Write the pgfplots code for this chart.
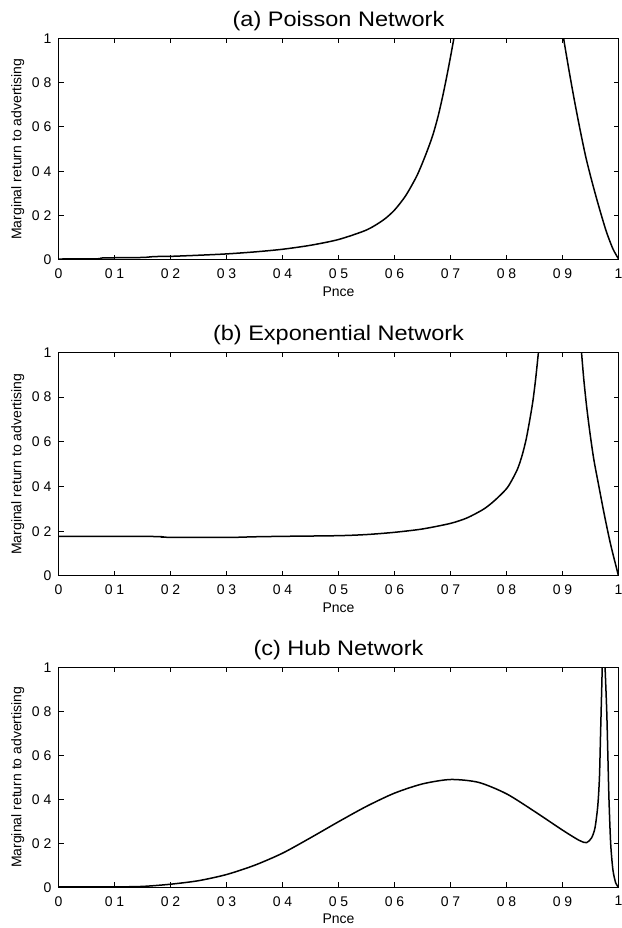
\documentclass[border=0pt]{standalone}
\usepackage{fontspec}
\setmainfont{Liberation Sans}
\newfontfamily\titlefont{Liberation Sans}[FakeStretch=1.12]
\usepackage{pgfplots}
\pgfplotsset{compat=1.18}

\pgfplotsset{
  netaxis/.style={
    scale only axis,
    width=280pt,
    xmin=0, xmax=1, ymin=0, ymax=1,
    xtick={0,0.1,...,1},
    xticklabels={0,0 1,0 2,0 3,0 4,0 5,0 6,0 7,0 8,0 9,1},
    ytick={0,0.2,0.4,0.6,0.8,1},
    yticklabels={0,0 2,0 4,0 6,0 8,1},
    tick align=inside,
    major tick length=2.5pt,
    axis line style={line width=0.6pt},
    every tick/.style={black, line width=0.5pt},
    tick label style={font=\fontsize{7}{8}\selectfont},
    xticklabel style={yshift=-1pt},
    label style={font=\fontsize{7}{8}\selectfont},
    xlabel style={yshift=3pt},
    ylabel style={yshift=-3pt},
    xlabel={Pnce},
    ylabel={Marginal return to advertising},
    title style={font=\titlefont\fontsize{10.5}{12}\selectfont, at={(0.5,1)}, anchor=base, yshift=0pt},
  },
  netline/.style={black, line width=0.75pt, no markers, smooth, tension=0.45},
}

\begin{document}
\begin{tikzpicture}
% (a)
\begin{axis}[netaxis, height=110.75pt, at={(0,313.7pt)}, anchor=south west,
  title={(a) Poisson Network}]
\addplot[netline] coordinates {
 (0,0.004) (0.07,0.005) (0.08,0.009) (0.15,0.011) (0.17,0.015) (0.2,0.016)
 (0.25,0.021) (0.3,0.027) (0.35,0.036) (0.4,0.048) (0.45,0.066) (0.5,0.092)
 (0.55,0.135) (0.58,0.18) (0.6,0.225) (0.62,0.29) (0.64,0.38) (0.655,0.47)
 (0.668,0.56) (0.678,0.65) (0.687,0.75) (0.695,0.85) (0.701,0.93) (0.706,1.0) (0.709,1.05)
};
\addplot[netline] coordinates {
 (0.9,1.05) (0.902,1.0) (0.912,0.85) (0.922,0.71) (0.932,0.58) (0.942,0.46)
 (0.953,0.35) (0.965,0.24) (0.978,0.13) (0.99,0.05) (1.0,0.005)
};
\end{axis}
% (b)
\begin{axis}[netaxis, height=111.75pt, at={(0,155.7pt)}, anchor=south west,
  title={(b) Exponential Network}]
\addplot[netline] coordinates {
 (0,0.177) (0.1,0.177) (0.18,0.176) (0.19,0.173) (0.3,0.172) (0.35,0.175)
 (0.4,0.177) (0.5,0.18) (0.55,0.185) (0.6,0.195) (0.65,0.21) (0.7,0.235)
 (0.73,0.26) (0.76,0.3) (0.78,0.34) (0.8,0.39) (0.81,0.43) (0.82,0.48)
 (0.828,0.54) (0.835,0.61) (0.841,0.69) (0.847,0.78) (0.852,0.88) (0.857,1.0) (0.859,1.05)
};
\addplot[netline] coordinates {
 (0.933,1.05) (0.934,1.0) (0.938,0.88) (0.943,0.76) (0.949,0.64) (0.956,0.52)
 (0.965,0.40) (0.975,0.27) (0.986,0.14) (1.0,0.0)
};
\end{axis}
% (c)
\begin{axis}[netaxis, height=110pt, at={(0,0)}, anchor=south west,
  title={(c) Hub Network}]
\addplot[netline] coordinates {
 (0,0.002) (0.1,0.002) (0.15,0.004) (0.2,0.014) (0.25,0.03) (0.3,0.058)
 (0.35,0.1) (0.4,0.155) (0.45,0.225) (0.5,0.298) (0.55,0.368) (0.6,0.428)
 (0.65,0.47) (0.7,0.49) (0.75,0.477) (0.8,0.425) (0.85,0.345) (0.9,0.26)
 (0.93,0.213) (0.943,0.203) (0.952,0.225) (0.958,0.27) (0.963,0.37) (0.966,0.5)
 (0.968,0.7) (0.97,0.9) (0.971,1.0) (0.972,1.05)
};
\addplot[netline] coordinates {
 (0.975,1.05) (0.976,1.0) (0.979,0.8) (0.981,0.6) (0.983,0.4) (0.986,0.2)
 (0.99,0.08) (0.995,0.02) (1.0,0.0)
};
\end{axis}
\pgfresetboundingbox
\path[use as bounding box] (-29.25pt,-20.35pt) rectangle (281.75pt,443.65pt);
\end{tikzpicture}
\end{document}
